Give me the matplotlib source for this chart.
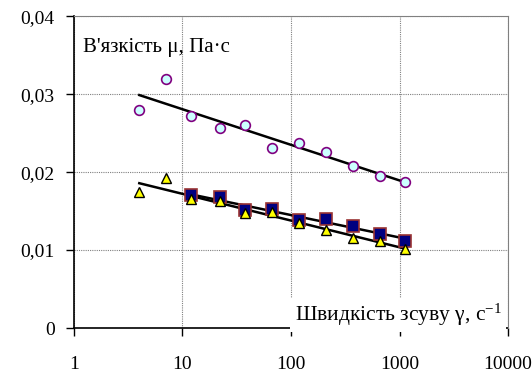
import numpy as np
import matplotlib.pyplot as plt
from matplotlib.ticker import FixedLocator, FuncFormatter

plt.rcParams['font.family'] = ['Liberation Serif', 'DejaVu Serif']
plt.rcParams['mathtext.fontset'] = 'custom'
plt.rcParams['mathtext.rm'] = 'Liberation Serif'

# shear rate, 1/s
rate = [4, 7, 12, 22, 38, 67, 118, 210, 373, 660, 1122]
# viscosity, Pa*s
visc_circ = [0.0280, 0.0319, 0.0272, 0.0256, 0.0260, 0.0231, 0.0237, 0.0226, 0.0208, 0.0195, 0.0187]
visc_sq = [0.0170, 0.0168, 0.0151, 0.0153, 0.0139, 0.0140, 0.0131, 0.0121, 0.0112]
visc_tri = [0.0175, 0.0192, 0.0165, 0.0163, 0.0148, 0.0149, 0.0135, 0.0126, 0.0116, 0.0111, 0.0101]
rate_sq = rate[2:]


def log_fit(x, y):
    # excel-style logarithmic trendline: y = a*ln(x) + b
    a, b = np.polyfit(np.log(x), y, 1)
    xs = np.array([min(x), max(x)], dtype=float)
    return xs, a * np.log(xs) + b


fig = plt.figure(figsize=(5.32, 3.73), dpi=100)
ax = fig.add_axes([0.139, 0.1206, 0.816, 0.836])

ax.set_xscale('log')
ax.set_xlim(1, 10000)
ax.set_ylim(0, 0.04)

for x, y in [(rate, visc_circ), (rate_sq, visc_sq), (rate, visc_tri)]:
    xs, ys = log_fit(x, y)
    ax.plot(xs, ys, color='black', lw=1.8, zorder=3)

ax.plot(rate, visc_circ, 'o', ms=7, mfc='#ccffff', mec='#800080', mew=1.2, zorder=4)
ax.plot(rate_sq, visc_sq, 's', ms=8, mfc='#000080', mec='#993333', mew=1.2, zorder=4)
ax.plot(rate, visc_tri, '^', ms=7, mfc='#ffff00', mec='black', mew=1.0, zorder=5)

ax.yaxis.set_major_locator(FixedLocator([0, 0.01, 0.02, 0.03, 0.04]))
ax.yaxis.set_major_formatter(FuncFormatter(lambda v, p: '0' if v == 0 else f'{v:.2f}'.replace('.', ',')))
ax.xaxis.set_major_locator(FixedLocator([1, 10, 100, 1000, 10000]))
ax.xaxis.set_major_formatter(FuncFormatter(lambda v, p: f'{int(v)}'))
ax.xaxis.set_minor_locator(FixedLocator([]))
ax.tick_params(axis='both', direction='out', length=6, width=1, labelsize=14)
ax.tick_params(axis='x', pad=14)
ax.tick_params(axis='y', pad=8)

ax.grid(True, color='#808080', linestyle=(0, (1, 1)), lw=0.8)
ax.set_axisbelow(True)
for side in ['top', 'right']:
    ax.spines[side].set_color('#808080')
    ax.spines[side].set_zorder(11)
for side in ['left', 'bottom']:
    ax.spines[side].set_color('black')
    ax.spines[side].set_linewidth(1.2)

ax.text(0.02, 0.9, "В'язкість μ, Па·с", transform=ax.transAxes, fontsize=15, va='center', ha='left')
ax.text(0.985, 0.0, r'Швидкість зсуву γ, с$\mathregular{^{-1}}$', transform=ax.transAxes, fontsize=15.5,
        ha='right', va='bottom', zorder=10,
        bbox=dict(facecolor='white', edgecolor='none', pad=3))

fig.savefig('out.png', dpi=100)
